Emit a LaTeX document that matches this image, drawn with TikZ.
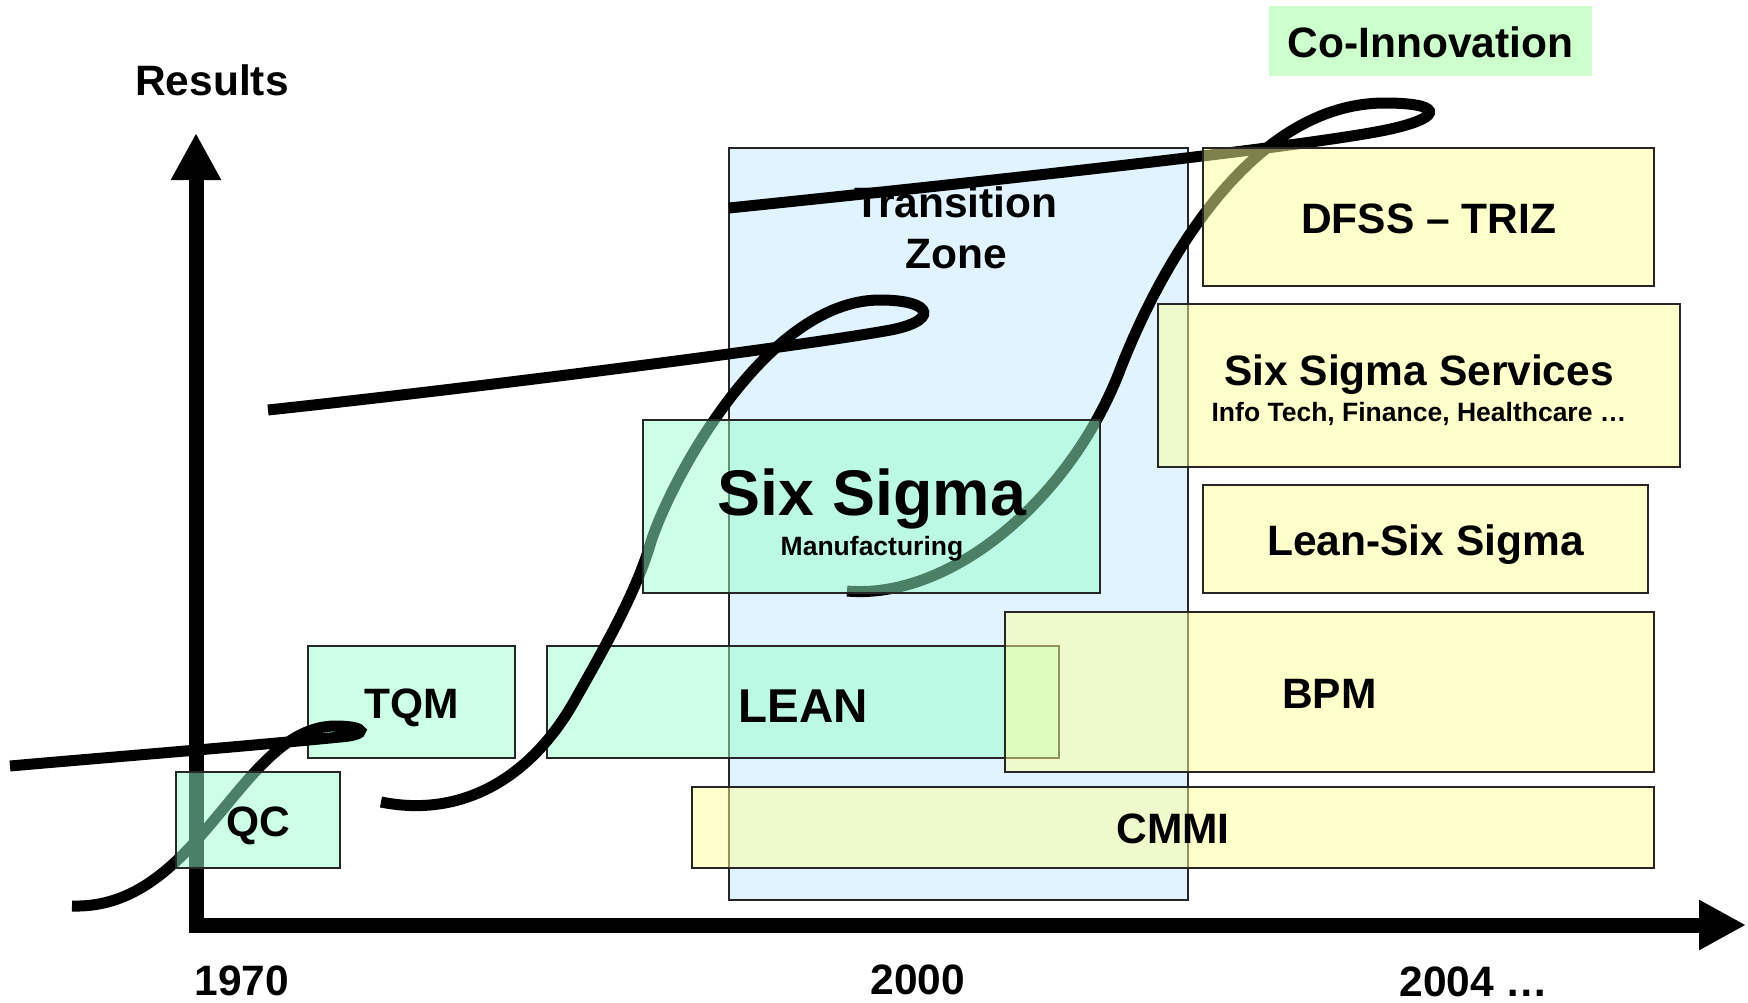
\documentclass[tikz,border=0pt]{standalone}
\usepackage{fontspec}
\setmainfont{Liberation Sans}
\usepackage{xcolor}
\usepackage{tikz}
\usetikzlibrary{positioning, arrows.meta}
\definecolor{mint}{HTML}{99FFCC}
\definecolor{lemon}{HTML}{FFFF99}
\definecolor{zoneblue}{HTML}{E0F3FF}
\definecolor{cogreen}{HTML}{CCFFCC}

\begin{document}
\begin{tikzpicture}[x=1pt,y=-1pt]
						\tikzstyle{box}=[rectangle,draw=black!85,line width=2pt,inner sep=0pt,fill opacity=0.5,text opacity=1]
						\tikzstyle{greenbox}=[box,fill=mint]
						\tikzstyle{yellowbox}=[box,fill=lemon]
						\tikzstyle{lbl}=[font=\bfseries\fontsize{42.5}{51}\selectfont]
						\tikzstyle{boxlbl}=[lbl,text height=32pt,text depth=0pt]
						\tikzstyle{sublbl}=[font=\bfseries\fontsize{26.5}{30}\selectfont]
						\tikzstyle{wave}=[line width=11pt]
						\tikzstyle{axis}=[line width=15pt,line cap=rect,-{Triangle[length=47pt,width=47pt]}]
						\useasboundingbox (0,0) rectangle (1748,1002);

						% transition zone
						\node[rectangle,draw=black!85,line width=2pt,fill=zoneblue,inner sep=0pt,minimum width=459pt,minimum height=752pt](zone) at (958.5,524) {};
						\node[lbl,align=center](zonetxt) at (956,228) {Transition\\Zone};

						% boxes below the curves
						\node[greenbox,boxlbl,minimum width=207pt,minimum height=112pt](tqm) at (411.5,702) {TQM};
						\node[greenbox,font=\bfseries\fontsize{47.5}{50}\selectfont,text height=41pt,text depth=0pt,minimum width=512pt,minimum height=112pt](lean) at (803,702) {LEAN};

						% axes
						\coordinate (origin) at (196,925);
						\coordinate (ytop) at (196,133);
						\coordinate (xend) at (1746,925);
						\draw[axis](origin) -- (ytop);
						\draw[axis](origin) -- (xend);

						% s-curves
						\draw[wave] (72,906) .. controls (200,910) and (240,727) .. (335,726) .. controls (368,726) and (368,735) .. (340,737) .. controls (250,746) and (100,758) .. (10,766);
						\draw[wave] (381,802) .. controls (460,818) and (530,780) .. (575,700) .. controls (602,652) and (635,595) .. (650,545) .. controls (668,485) and (765,300) .. (880,300) .. controls (935,300) and (940,322) .. (885,331) .. controls (800,346) and (500,385) .. (268,410);
						\draw[wave] (847,591) .. controls (950,600) and (1070,500) .. (1120,370) .. controls (1150,292) and (1240,103) .. (1385,103) .. controls (1440,103) and (1445,116) .. (1395,128) .. controls (1330,144) and (1000,180) .. (729,208);

						% boxes above the curves
						\node[greenbox,boxlbl,minimum width=164pt,minimum height=96pt](qc) at (258,820) {QC};
						\node[greenbox,minimum width=457pt,minimum height=173pt](sixsigma) at (871.5,506.5) {};
						\node[font=\bfseries\fontsize{64.5}{70}\selectfont,anchor=base](sixtxt) at (872,515) {Six Sigma};
						\node[sublbl,anchor=base](manuf) at (872,555) {Manufacturing};

						\node[yellowbox,boxlbl,minimum width=451pt,minimum height=138pt](dfss) at (1428.5,217) {DFSS – TRIZ};
						\node[yellowbox,minimum width=522pt,minimum height=163pt](services) at (1419,385.5) {};
						\node[lbl,anchor=base](servtxt) at (1419,385) {Six Sigma Services};
						\node[sublbl,anchor=base](servsub) at (1419,421) {Info Tech, Finance, Healthcare …};
						\node[yellowbox,boxlbl,minimum width=445pt,minimum height=108pt](leansix) at (1425.5,539) {Lean-Six Sigma};
						\node[yellowbox,boxlbl,minimum width=649pt,minimum height=160pt](bpm) at (1329.5,692) {BPM};
						\node[yellowbox,boxlbl,minimum width=962pt,minimum height=81pt](cmmi) at (1173,827.5) {CMMI};

						\node[rectangle,fill=cogreen,boxlbl,minimum width=323pt,minimum height=70pt](coinno) at (1430.5,41) {Co-Innovation};

						% axis labels
						\node[lbl,anchor=base](results) at (212,95) {Results};
						\node[lbl,anchor=base](y1970) at (242,995.5) {1970};
						\node[lbl,anchor=base](y2000) at (918,994) {2000};
						\node[lbl,anchor=base](y2004) at (1474,996) {2004 …};
					\end{tikzpicture}
\end{document}
